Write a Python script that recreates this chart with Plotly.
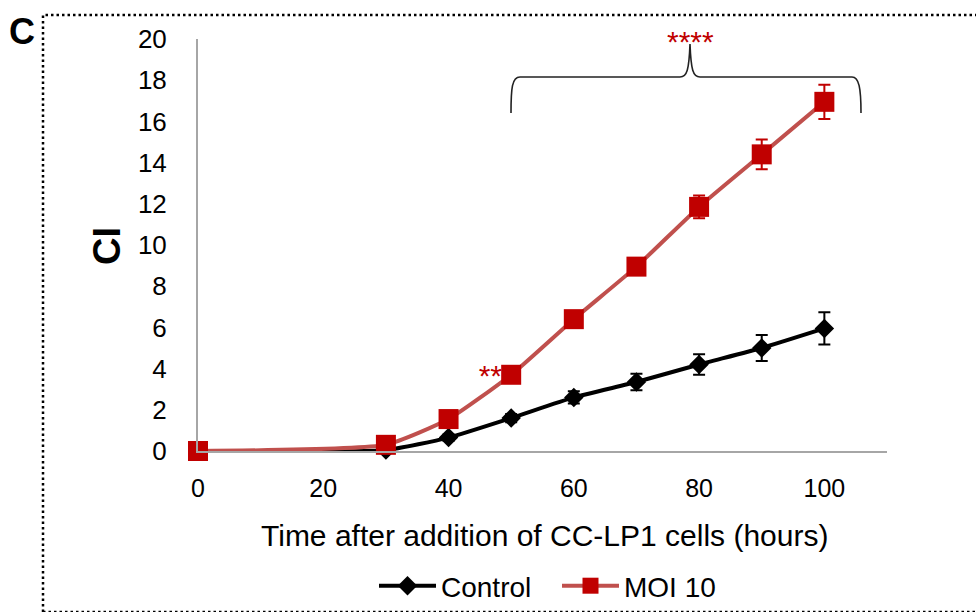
import plotly.graph_objects as go

# ---- data ----
hours = [0, 30, 40, 50, 60, 70, 80, 90, 100]
control = [0, 0.05, 0.65, 1.6, 2.6, 3.35, 4.2, 5.0, 5.95]
control_err = [0, 0.1, 0.15, 0.2, 0.3, 0.4, 0.5, 0.63, 0.78]
moi10 = [0, 0.3, 1.55, 3.7, 6.4, 8.95, 11.85, 14.4, 16.95]
moi10_err = [0, 0.1, 0.15, 0.2, 0.25, 0.3, 0.55, 0.72, 0.83]
y_ticks = [0, 2, 4, 6, 8, 10, 12, 14, 16, 18, 20]
x_ticks = [0, 20, 40, 60, 80, 100]
series_names = ["Control", "MOI 10"]

FONT = "Liberation Sans, Arial, sans-serif"
RED = "#C00000"
RED_LINE = "#C0504D"

X_RANGE = [0, 110]
Y_RANGE = [0, 20]

fig = go.Figure()

# significance marker near 50 h (drawn first so the marker covers it)
fig.add_trace(go.Scatter(
    x=[hours[3] - 2.4], y=[moi10[3] - 0.2], mode="text", text=["***"],
    textfont=dict(family=FONT, size=30, color=RED), showlegend=False,
    hoverinfo="skip", cliponaxis=False))

fig.add_trace(go.Scatter(
    x=hours, y=control, name=series_names[0], mode="lines+markers",
    line=dict(color="black", width=4, shape="spline", smoothing=0.5),
    marker=dict(symbol="diamond", size=15, color="black"),
    error_y=dict(type="data", array=control_err, color="black", thickness=2, width=6),
    cliponaxis=False))

fig.add_trace(go.Scatter(
    x=hours, y=moi10, name=series_names[1], mode="lines+markers",
    line=dict(color=RED_LINE, width=4, shape="spline", smoothing=0.5),
    marker=dict(symbol="square", size=20, color=RED),
    error_y=dict(type="data", array=moi10_err, color=RED, thickness=2, width=6),
    cliponaxis=False))

# geometry helpers (plot area: left 198, right 887, top 39, bottom 451)
L, R, T, B = 198, 887, 39, 451
def px(xp):
    return (xp - L) / (R - L)
def py(yp):
    return (B - yp) / (B - T)

# brace over 50-100 h
path = (f"M {px(511)},{py(113)} C {px(511)},{py(88)} {px(512)},{py(77)} {px(520)},{py(77)} "
        f"L {px(680)},{py(77)} C {px(687)},{py(77)} {px(689)},{py(70)} {px(690)},{py(44)} "
        f"C {px(691)},{py(70)} {px(693)},{py(77)} {px(700)},{py(77)} "
        f"L {px(852)},{py(77)} C {px(859)},{py(77)} {px(861)},{py(88)} {px(861)},{py(113)}")
shapes = [
    dict(type="path", xref="paper", yref="paper", path=path,
         line=dict(color="#222222", width=1.6)),
    dict(type="rect", xref="paper", yref="paper",
         x0=px(43), x1=px(990), y0=py(612), y1=py(15),
         line=dict(color="black", width=2.5, dash="2.5px,3px")),
]

annotations = [
    dict(text="****", xref="paper", yref="paper", x=px(690), y=py(41),
         showarrow=False, font=dict(family=FONT, size=30, color=RED),
         xanchor="center", yanchor="middle"),
    dict(text="<b>CI</b>", xref="paper", yref="paper", x=px(107), y=py(246),
         showarrow=False, textangle=-90, font=dict(family=FONT, size=38, color="black"),
         xanchor="center", yanchor="middle"),
    dict(text="<b>C</b>", xref="paper", yref="paper", x=px(22), y=py(31),
         showarrow=False, font=dict(family=FONT, size=36, color="black"),
         xanchor="center", yanchor="middle"),
    dict(text="Time after addition of CC-LP1 cells (hours)", xref="paper", yref="paper",
         x=px(544), y=py(535), showarrow=False,
         font=dict(family=FONT, size=30, color="black"),
         xanchor="center", yanchor="middle"),
]

fig.update_layout(
    width=976, height=612,
    margin=dict(l=L, r=976 - R, t=T, b=612 - B, pad=0, autoexpand=False),
    paper_bgcolor="white", plot_bgcolor="white",
    font=dict(family=FONT, color="black"),
    shapes=shapes, annotations=annotations,
    showlegend=True,
    legend=dict(orientation="h", x=px(374), y=py(586), xanchor="left", yanchor="middle",
                font=dict(family=FONT, size=28, color="black"), itemwidth=57,
                entrywidth=111, entrywidthmode="pixels",
                bgcolor="rgba(0,0,0,0)", tracegroupgap=0),
)
fig.update_xaxes(range=X_RANGE, tickvals=x_ticks, showgrid=False, zeroline=False,
                 showline=True, linecolor="#A6A6A6", linewidth=2, ticks="",
                 tickfont=dict(family=FONT, size=25, color="black"), ticklabelstandoff=14)
fig.update_yaxes(range=Y_RANGE, tickvals=y_ticks, showgrid=False, zeroline=False,
                 showline=True, linecolor="#A6A6A6", linewidth=2, ticks="",
                 tickfont=dict(family=FONT, size=26, color="black"), ticklabelstandoff=24)

fig.write_html("out.html")
